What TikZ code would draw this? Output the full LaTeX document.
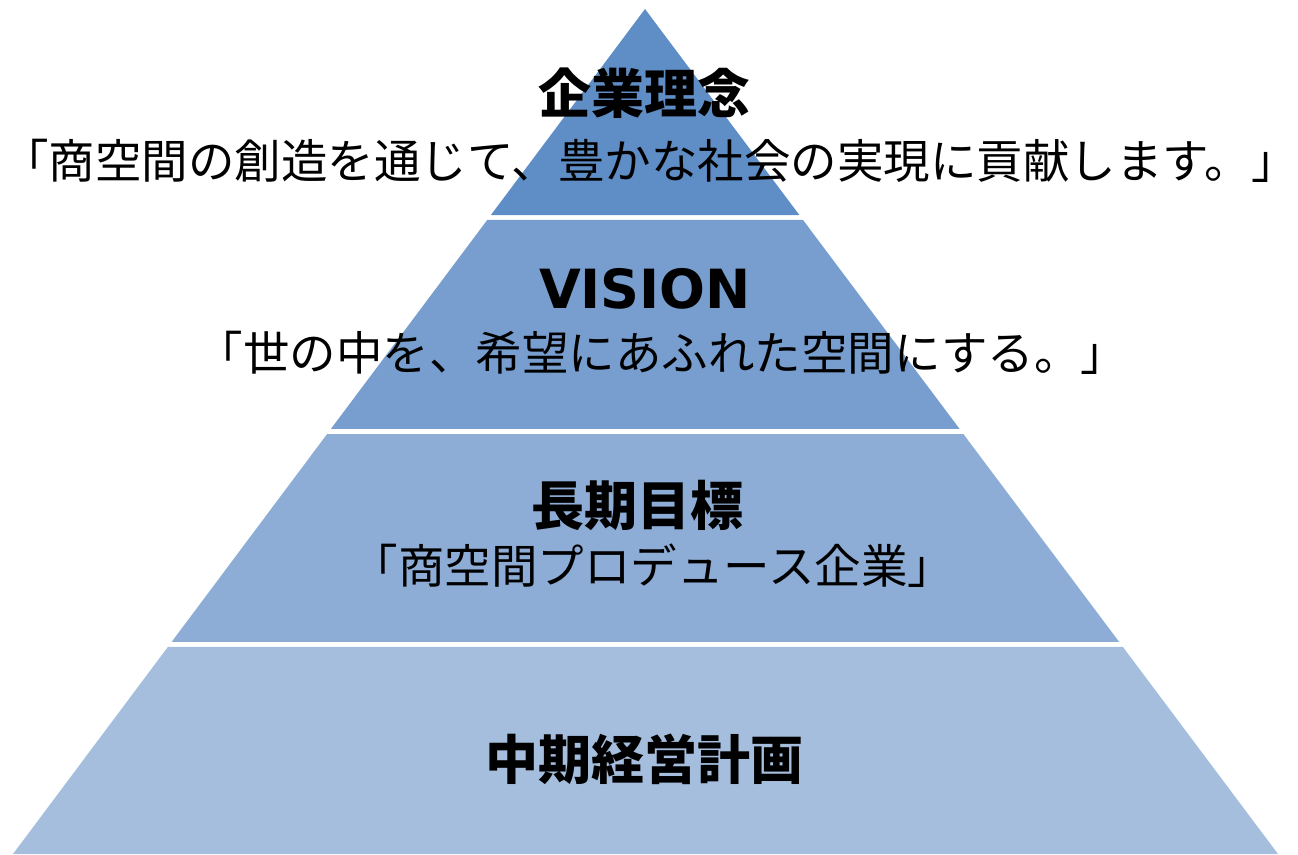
\documentclass[tikz,border=0pt]{standalone}
\usepackage{fontspec}
\usetikzlibrary{calc}
\newfontfamily\jp{Noto Sans CJK JP}
\newfontfamily\lat{DejaVu Sans}
\definecolor{lay1}{HTML}{5F8DC6}
\definecolor{lay2}{HTML}{779ECE}
\definecolor{lay3}{HTML}{8DADD6}
\definecolor{lay4}{HTML}{A5BEDD}
\tikzset{
  layer/.style={fill=#1, draw=none},
  title/.style={anchor=base, inner sep=0pt, font=\jp\bfseries\fontsize{53}{60}\selectfont},
  sub/.style={anchor=base, inner sep=0pt, font=\jp\fontsize{46.5}{54}\selectfont},
}
\begin{document}
\begin{tikzpicture}[x=1pt,y=-1pt]
\useasboundingbox (0,0) rectangle (1298,854);
\coordinate (A) at (645,9);
\coordinate (BL) at (13,854);
\coordinate (BR) at (1278,854);
% layer 1
\fill[layer=lay1] (A) -- ($(A)!0.2438!(BL)$) -- ($(A)!0.2438!(BR)$) -- cycle;
% layer 2
\fill[layer=lay2] ($(A)!0.2497!(BL)$) -- ($(A)!0.4970!(BL)$) -- ($(A)!0.4970!(BR)$) -- ($(A)!0.2497!(BR)$) -- cycle;
% layer 3
\fill[layer=lay3] ($(A)!0.5030!(BL)$) -- ($(A)!0.7491!(BL)$) -- ($(A)!0.7491!(BR)$) -- ($(A)!0.5030!(BR)$) -- cycle;
% layer 4
\fill[layer=lay4] ($(A)!0.7550!(BL)$) -- (BL) -- (BR) -- ($(A)!0.7550!(BR)$) -- cycle;

\node[title] (t1) at (644,113) {企業理念};
\node[sub] (s1) at (650,178) {「商空間の創造を通じて、豊かな社会の実現に貢献します。」};
\node[anchor=base, inner sep=0pt, font=\lat\bfseries\fontsize{54}{60}\selectfont] (t2) at (645,308) {VISION};
\node[sub] (s2) at (662,370) {「世の中を、希望にあふれた空間にする。」};
\node[title] (t3) at (637,525) {長期目標};
\node[sub] (s3) at (653,583) {「商空間プロデュース企業」};
\node[title] (t4) at (644,779) {中期経営計画};
\end{tikzpicture}
\end{document}
